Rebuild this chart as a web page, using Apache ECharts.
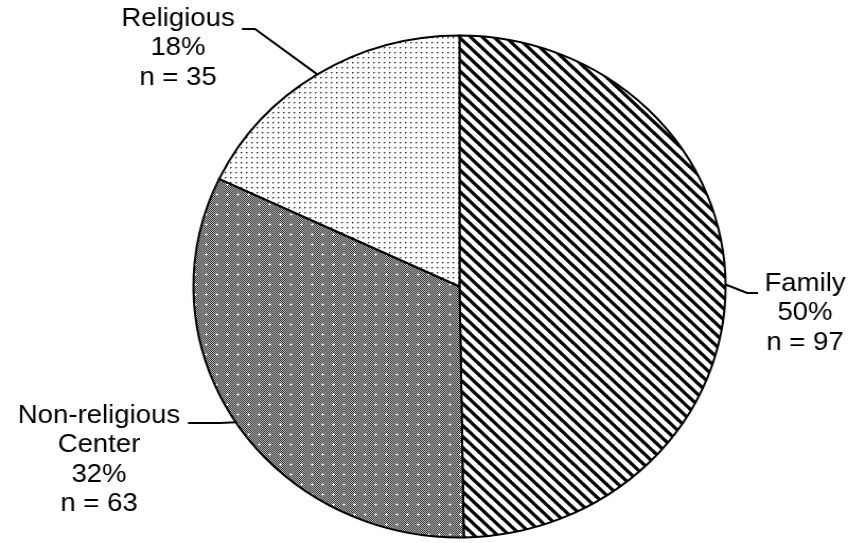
<!DOCTYPE html>
<html>
<head>
<meta charset="utf-8">
<script src="https://cdn.jsdelivr.net/npm/echarts@6/dist/echarts.min.js"></script>
<style>
  html, body { margin: 0; padding: 0; background: #fff; overflow: hidden; }
  #wrap { width: 856px; height: 543px; overflow: hidden; }
  /* chart is drawn slightly narrower and stretched horizontally (elliptical pie) */
  #chart { width: 808px; height: 543px; transform: scaleX(1.06); transform-origin: 0 0; }
</style>
</head>
<body>
<div id="wrap"><div id="chart"></div></div>
<script>
// Care settings, number of respondents
const categories = ['Family', 'Non-religious\nCenter', 'Religious'];
const counts = [97, 63, 35];

const SX = 1.06; // horizontal stretch applied to the chart element

// --- fill patterns -------------------------------------------------------
function stripeTile() {
  const n = 11;
  const c = document.createElement('canvas');
  c.width = n; c.height = n;
  const g = c.getContext('2d');
  g.fillStyle = '#fff'; g.fillRect(0, 0, n, n);
  g.strokeStyle = '#000'; g.lineWidth = 3.3;
  for (let k = -2 * n; k <= 2 * n; k += n) {
    g.beginPath(); g.moveTo(k - 2, -2); g.lineTo(k + n + 2, n + 2); g.stroke();
  }
  return c;
}
function checkerTile() {
  const c = document.createElement('canvas');
  c.width = 10; c.height = 10;
  const g = c.getContext('2d');
  for (let y = 0; y < 10; y++) {
    for (let x = 0; x < 10; x++) {
      g.fillStyle = ((x + y) % 2 === 0) ? '#2a2a2a' : '#c4c4c4';
      g.fillRect(x, y, 1, 1);
    }
  }
  g.fillStyle = '#fff';
  g.fillRect(4, 3, 1, 3);
  g.fillRect(3, 4, 3, 1);
  return c;
}
function dotTile() {
  const c = document.createElement('canvas');
  c.width = 5; c.height = 5;
  const g = c.getContext('2d');
  g.fillStyle = '#fff'; g.fillRect(0, 0, 5, 5);
  g.fillStyle = '#333'; g.fillRect(2, 2, 1, 1);
  g.fillStyle = '#999'; g.fillRect(3, 2, 1, 1); g.fillRect(2, 3, 1, 1);
  return c;
}
const fills = [
  { image: stripeTile(), repeat: 'repeat' },
  { image: checkerTile(), repeat: 'repeat' },
  { image: dotTile(), repeat: 'repeat' }
];

// Label placement (first-line anchor and leader line bend/end), page pixels
const labelPlaces = [
  { x: 805, y: 269, bend: [747, 293], end: [758, 293] },
  { x: 99,  y: 401, bend: [220, 423], end: [188, 423] },
  { x: 178, y: 4,   bend: [255, 29],  end: [242, 29] }
];

const total = counts.reduce((a, b) => a + b, 0);
const data = categories.map((name, i) => ({
  name: name,
  value: counts[i],
  itemStyle: { color: fills[i] }
}));

const chart = echarts.init(document.getElementById('chart'), null, { renderer: 'canvas' });
chart.setOption({
  animation: false,
  series: [{
    type: 'pie',
    center: [459.5 / SX, 286.5],
    radius: 251,
    startAngle: 90,
    clockwise: true,
    silent: true,
    emphasis: { disabled: true },
    itemStyle: { borderColor: '#000', borderWidth: 2 },
    label: {
      show: true,
      position: 'outer',
      alignTo: 'none',
      overflow: 'none',
      color: '#000',
      fontFamily: 'Arial, "Liberation Sans", sans-serif',
      fontSize: 26,
      lineHeight: 29.5,
      align: 'center',
      formatter: p => p.name + '\n' + Math.round(p.value / total * 100) + '%\nn = ' + p.value
    },
    labelLine: {
      show: true,
      lineStyle: { color: '#000', width: 2 }
    },
    labelLayout: params => {
      const pl = labelPlaces[params.dataIndex];
      const edge = params.labelLinePoints ? params.labelLinePoints[0] : null;
      const out = {
        x: pl.x / SX,
        y: pl.y,
        align: 'center',
        verticalAlign: 'top',
        width: 200,
        draggable: false
      };
      if (edge) {
        out.labelLinePoints = [
          [edge[0], edge[1]],
          [pl.bend[0] / SX, pl.bend[1]],
          [pl.end[0] / SX, pl.end[1]]
        ];
      }
      return out;
    },
    data: data
  }]
});
</script>
</body>
</html>
